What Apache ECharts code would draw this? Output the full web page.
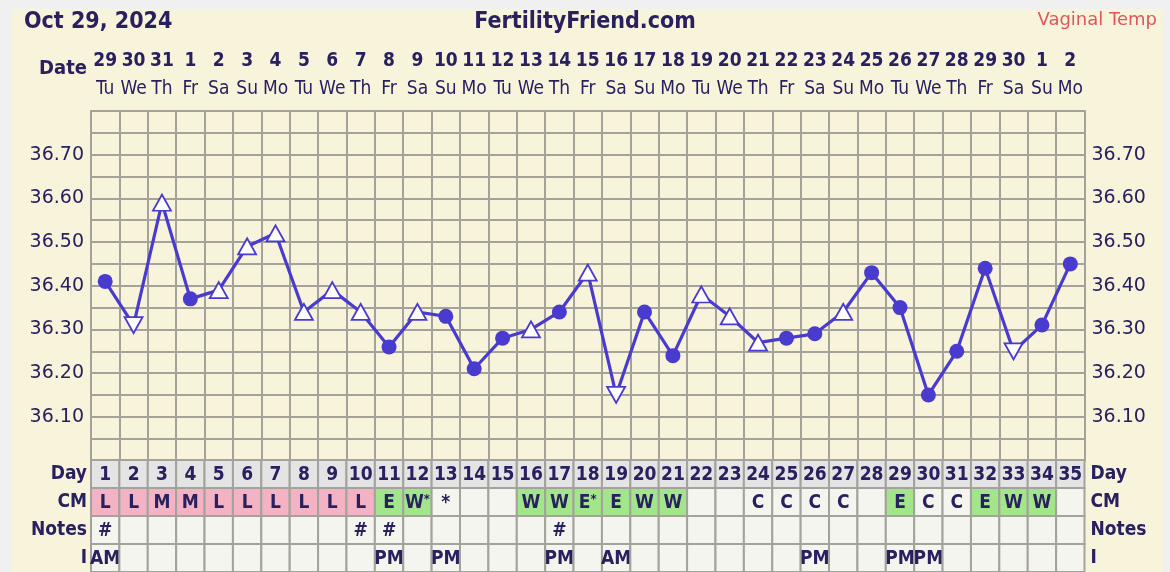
<!DOCTYPE html>
<html><head><meta charset="utf-8">
<script src="https://cdn.jsdelivr.net/npm/echarts@6/dist/echarts.min.js"></script>
<style>html,body{margin:0;padding:0;background:#f0f0f0;}#c{width:1170px;height:572px;}</style>
</head><body><div id="c"></div>
<script>
const dateNums = ['29','30','31','1','2','3','4','5','6','7','8','9','10','11','12','13','14','15','16','17','18','19','20','21','22','23','24','25','26','27','28','29','30','1','2'];
const dows = ['Tu','We','Th','Fr','Sa','Su','Mo','Tu','We','Th','Fr','Sa','Su','Mo','Tu','We','Th','Fr','Sa','Su','Mo','Tu','We','Th','Fr','Sa','Su','Mo','Tu','We','Th','Fr','Sa','Su','Mo'];
const temps = [36.41,36.31,36.59,36.37,36.39,36.49,36.52,36.34,36.39,36.34,36.26,36.34,36.33,36.21,36.28,36.30,36.34,36.43,36.15,36.34,36.24,36.38,36.33,36.27,36.28,36.29,36.34,36.43,36.35,36.15,36.25,36.44,36.25,36.31,36.45];
// c = filled circle, u = open triangle up, d = open triangle down
const markers = ['c','d','u','c','u','u','u','u','u','u','c','u','c','c','c','u','c','u','d','c','c','u','u','u','c','c','u','c','c','c','c','c','d','c','c'];
const cycleDays = ['1','2','3','4','5','6','7','8','9','10','11','12','13','14','15','16','17','18','19','20','21','22','23','24','25','26','27','28','29','30','31','32','33','34','35'];
const cm = ['L','L','M','M','L','L','L','L','L','L','E','W*','*','','','W','W','E*','E','W','W','','','C','C','C','C','','E','C','C','E','W','W',''];
const notes = ['#','','','','','','','','','#','#','','','','','','#','','','','','','','','','','','','','','','','','',''];
const intercourse = ['AM','','','','','','','','','','PM','','PM','','','','PM','','AM','','','','','','','PM','','','PM','PM','','','','',''];
const rowLabels = ['Day','CM','Notes','I'];
const yTicks = ['36.10','36.20','36.30','36.40','36.50','36.60','36.70'];

const FONT = "'DejaVu Sans Condensed','DejaVu Sans',Verdana,sans-serif";
const FONTW = "'DejaVu Sans',Verdana,sans-serif";
const NAVY = '#28205f';
const LINE = '#4a3bcf';
const GRIDC = '#a3a29b';

const chart = echarts.init(document.getElementById('c'), null, {renderer:'canvas'});

const seriesData = temps.map((t,i)=>{
  const m = markers[i];
  if (m === 'c') return {value:t, symbol:'circle', symbolSize:15, itemStyle:{color:LINE, borderColor:LINE, borderWidth:0}};
  return {value:t, symbol:'triangle', symbolSize:[18,16], symbolRotate: m==='d'?180:0,
    itemStyle:{color:'#ffffff', borderColor:LINE, borderWidth:1.8}};
});

const tableData = [];
cycleDays.forEach((d,i)=>{
  tableData.push([i,0,d]);
  tableData.push([i,1,cm[i]]);
  tableData.push([i,2,notes[i]]);
  tableData.push([i,3,intercourse[i]]);
});

function cellFill(row, txt){
  if (row===0) return '#e4e4e4';
  if (row===1){
    if (txt==='L'||txt==='M') return '#f3b3c4';
    if (/^[EW]/.test(txt)) return '#a3e58b';
  }
  return '#f5f5ef';
}

const option = {
  backgroundColor:'#f0f0f0',
  animation:false,
  graphic:[
    {type:'rect', z:-10, shape:{x:12,y:9,width:1151,height:570}, style:{fill:'#f8f4dc'}},
    {type:'text', left:24, top:11, style:{text:'Oct 29, 2024', font:"bold 23px "+FONT, fill:NAVY}},
    {type:'text', left:'center', top:11, style:{text:'FertilityFriend.com', font:"bold 23px "+FONT, fill:NAVY}},
    {type:'text', right:13, top:11, style:{text:'Vaginal Temp', font:"18px "+FONTW, fill:'#e0565b'}},
    {type:'text', right:1083, top:59, style:{text:'Date', font:"bold 20px "+FONT, fill:NAVY}}
  ],
  grid:[
    {left:91, right:85.5, top:111, height:349.5, containLabel:false, show:true, backgroundColor:'#f8f4dc', borderWidth:0},
    {left:91, right:85.5, top:460, height:114, containLabel:false}
  ],
  xAxis:[
    {gridIndex:0, type:'category', data:cycleDays, boundaryGap:true, position:'bottom',
     axisLine:{show:false}, axisTick:{show:false}, axisLabel:{show:false},
     splitLine:{show:true, interval:0, lineStyle:{color:GRIDC, width:2}}},
    {gridIndex:0, type:'category', data:dateNums, boundaryGap:true, position:'top',
     axisLine:{show:false}, axisTick:{show:false}, splitLine:{show:false},
     axisLabel:{interval:0, margin:8, formatter:(v,i)=>'{n|'+v+'}\n{d|'+dows[i]+'}',
       rich:{n:{fontFamily:FONT, fontWeight:'bold', fontSize:19, color:NAVY, lineHeight:28, align:'center'},
             d:{fontFamily:FONT, fontWeight:'normal', fontSize:19, color:NAVY, lineHeight:28, align:'center'}}}},
    {gridIndex:1, type:'category', data:cycleDays, boundaryGap:true,
     axisLine:{show:false}, axisTick:{show:false}, axisLabel:{show:false}, splitLine:{show:false}}
  ],
  yAxis:[
    {gridIndex:0, type:'value', min:36.0, max:36.8, interval:0.05, position:'left',
     axisLine:{show:true, lineStyle:{color:GRIDC, width:2}}, axisTick:{show:false},
     splitLine:{show:true, lineStyle:{color:GRIDC, width:2}},
     axisLabel:{margin:7, color:NAVY, fontFamily:FONTW, fontSize:19,
       formatter:v=>{const s=v.toFixed(2); return yTicks.indexOf(s)>=0?s:'';}}},
    {gridIndex:0, type:'value', min:36.0, max:36.8, interval:0.05, position:'right',
     axisLine:{show:true, lineStyle:{color:GRIDC, width:2}}, axisTick:{show:false},
     splitLine:{show:false},
     axisLabel:{margin:7, color:NAVY, fontFamily:FONTW, fontSize:19,
       formatter:v=>{const s=v.toFixed(2); return yTicks.indexOf(s)>=0?s:'';}}},
    {gridIndex:1, type:'category', data:rowLabels, inverse:true, position:'left',
     axisLine:{show:false}, axisTick:{show:false}, splitLine:{show:false},
     axisLabel:{margin:4, color:NAVY, fontFamily:FONT, fontWeight:'bold', fontSize:19}},
    {gridIndex:1, type:'category', data:rowLabels, inverse:true, position:'right',
     axisLine:{show:false}, axisTick:{show:false}, splitLine:{show:false},
     axisLabel:{margin:6, color:NAVY, fontFamily:FONT, fontWeight:'bold', fontSize:19}}
  ],
  series:[
    {type:'line', xAxisIndex:0, yAxisIndex:0, data:seriesData, z:5,
     lineStyle:{color:LINE, width:3.2}, itemStyle:{color:LINE}},
    {type:'custom', xAxisIndex:2, yAxisIndex:2, data:tableData, z:3,
     renderItem:(params, api)=>{
       const c = api.coord([api.value(0), api.value(1)]);
       const s = api.size([1,1]);
       const row = api.value(1);
       const txt = tableData[params.dataIndex][2];
       let text = txt;
       if (txt.length>1 && txt.endsWith('*')) { text = '{a|'+txt[0]+'}{s|*}'; }
       const rich = {a:{fontFamily:FONT, fontWeight:'bold', fontSize:19, fill:NAVY},
                     s:{fontFamily:FONT, fontWeight:'bold', fontSize:13, fill:NAVY, verticalAlign:'top', padding:[0,0,6,0]}};
       return {type:'group', children:[
         {type:'rect', shape:{x:c[0]-s[0]/2, y:c[1]-s[1]/2, width:s[0], height:s[1]},
          style:{fill:cellFill(row, txt), stroke:GRIDC, lineWidth:2}},
         {type:'text', x:c[0], y:c[1]+1, style:{text:text, rich:rich, font:"bold 19px "+FONT, fill:NAVY, align:'center', verticalAlign:'middle'}}
       ]};
     }}
  ]
};
chart.setOption(option);
</script></body></html>
